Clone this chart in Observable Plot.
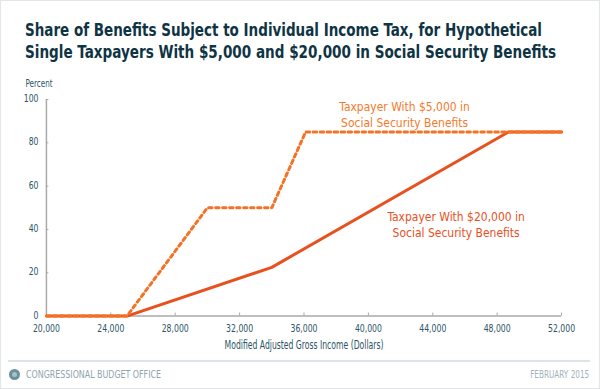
<!DOCTYPE html>
<html>
<head>
<meta charset="utf-8">
<script src="https://cdn.jsdelivr.net/npm/d3@7"></script>
<script src="https://cdn.jsdelivr.net/npm/@observablehq/plot@0.6"></script>
<style>
  html, body { margin: 0; padding: 0; background: #fff; }
  #wrap { position: relative; width: 598px; height: 387px; border: 1px solid #e2e6e8; overflow: hidden; font-family: "DejaVu Sans Condensed", "Liberation Sans Narrow", Roboto, sans-serif; }
  #title { position: absolute; left: 24px; top: 19px; color: #0f3444; font-weight: bold; font-size: 17.5px; line-height: 21.7px; white-space: nowrap; }
  .fit { display: block; white-space: nowrap; transform-origin: left center; }
  #chart { position: absolute; left: -1px; top: 69px; }
  #sep { position: absolute; left: 7px; top: 359px; width: 582px; height: 2px; background: #dbe4e7; }
  #cbo { position: absolute; left: 25px; top: 367px; font-size: 11px; color: #8ea5ae; }
  #logo { position: absolute; left: 8px; top: 368px; width: 11px; height: 11px; border-radius: 50%; background: #6b8f9c; }
  #logo::after { content: ""; position: absolute; left: 3px; top: 3px; width: 5px; height: 5px; border-radius: 50%; background: #a9c0c8; }
  #date { position: absolute; right: 10px; top: 367px; font-size: 11px; color: #9fb3bb; }
  #date.fit { transform-origin: right center; }
</style>
</head>
<body>
<div id="wrap">
  <div id="title">
    <span class="fit" data-w="517">Share of Benefits Subject to Individual Income Tax, for Hypothetical</span>
    <span class="fit" data-w="531">Single Taxpayers With $5,000 and $20,000 in Social Security Benefits</span>
  </div>
  <div id="chart"></div>
  <div id="sep"></div>
  <div id="logo"></div>
  <div id="cbo" class="fit" data-w="135">CONGRESSIONAL BUDGET OFFICE</div>
  <div id="date" class="fit" data-w="59">FEBRUARY 2015</div>
</div>
<script>
// Data
const income5k = [20000, 25000, 30000, 34000, 36100, 52000];
const share5k  = [0, 0, 50, 50, 85, 85];
const income20k = [20000, 25000, 34000, 48700, 52000];
const share20k  = [0, 0, 22.5, 85, 85];

const xTicks = [20000, 24000, 28000, 32000, 36000, 40000, 44000, 48000, 52000];
const yTicks = [0, 20, 40, 60, 80, 100];

const labelText = ["Taxpayer With $5,000 in\nSocial Security Benefits", "Taxpayer With $20,000 in\nSocial Security Benefits"];
const labelX = [42250, 45450];
const labelY = [93.3, 42.7];
const labelColor = ["#f47a2b", "#e8501e"];

const colorSolid = "#e8501e";
const colorDotted = "#f37224";
const textColor = "#2b5566";
const axisColor = "#a9a9a9";

const s5 = income5k.map((x, i) => ({x, y: share5k[i]}));
const s20 = income20k.map((x, i) => ({x, y: share20k[i]}));
const labels = labelText.map((t, i) => ({t, x: labelX[i], y: labelY[i], c: labelColor[i]}));

const font = '"DejaVu Sans Condensed", "Liberation Sans Narrow", Roboto, sans-serif';

const chart = Plot.plot({
  width: 600,
  height: 286,
  marginTop: 29,
  marginBottom: 40,
  marginLeft: 46,
  marginRight: 38,
  style: {fontFamily: font, fontSize: "11px", color: textColor, background: "transparent"},
  x: {domain: [20000, 52000]},
  y: {domain: [0, 100]},
  marks: [
    Plot.ruleY([0], {stroke: axisColor, strokeWidth: 1.5}),
    Plot.ruleX([20000], {stroke: axisColor, strokeWidth: 1.5}),
    Plot.ruleX(xTicks.slice(1), {x: d => d, y1: 0, y2: 1.4, stroke: axisColor, strokeWidth: 1}),
    Plot.ruleY(yTicks.slice(1), {y: d => d, x1: 20000, x2: 20150, stroke: axisColor, strokeWidth: 1}),
    Plot.axisX({ticks: xTicks, tickSize: 0, tickPadding: 8.5, tickFormat: d3.format(","), label: null, fill: textColor, fontSize: 10.5}),
    Plot.axisY({ticks: yTicks, tickSize: 0, tickPadding: 8, dy: -1, label: null, fill: textColor, fontSize: 11}),
    Plot.text(["Percent"], {frameAnchor: "top-left", dx: -21, dy: -16, textAnchor: "start", lineAnchor: "middle", fill: textColor, fontSize: 11}),
    Plot.text(["Modified Adjusted Gross Income (Dollars)"], {frameAnchor: "bottom", dy: 29, lineAnchor: "middle", fill: textColor, fontSize: 11.5}),
    Plot.line(s20, {x: "x", y: "y", stroke: colorSolid, strokeWidth: 3, strokeLinejoin: "miter"}),
    Plot.line(s5, {x: "x", y: "y", stroke: colorDotted, strokeWidth: 3, strokeDasharray: "3.5,3.5", strokeLinejoin: "miter"}),
    Plot.text(labels, {x: "x", y: "y", text: "t", fill: "c", fontSize: 12.5, lineHeight: 1.3, textAnchor: "middle"})
  ]
});
document.getElementById("chart").appendChild(chart);

// condense SVG text to mimic the narrow typeface of the original
function condense(nodes, factor) {
  nodes.forEach(t => {
    const spans = t.querySelectorAll("tspan");
    (spans.length ? Array.from(spans) : [t]).forEach(e => {
      const L = e.getComputedTextLength();
      if (L > 0) {
        e.setAttribute("textLength", (L * factor).toFixed(2));
        e.setAttribute("lengthAdjust", "spacingAndGlyphs");
      }
    });
  });
}
condense(chart.querySelectorAll('g[aria-label="x-axis tick label"] text'), 0.82);
condense(chart.querySelectorAll('g[aria-label="y-axis tick label"] text'), 0.78);
const textGroups = chart.querySelectorAll('g[aria-label="text"]');
condense(textGroups[0].querySelectorAll("text"), 0.73);
condense(textGroups[1].querySelectorAll("text"), 0.745);
condense(textGroups[2].querySelectorAll("text"), 0.96);

// fit HTML text lines to the reference widths
document.querySelectorAll(".fit").forEach(s => {
  const target = +s.dataset.w;
  const range = document.createRange();
  range.selectNodeContents(s);
  const tw = range.getBoundingClientRect().width;
  if (tw > 0) {
    s.style.width = tw + "px";
    s.style.transform = `scaleX(${target / tw})`;
  }
});
</script>
</body>
</html>
